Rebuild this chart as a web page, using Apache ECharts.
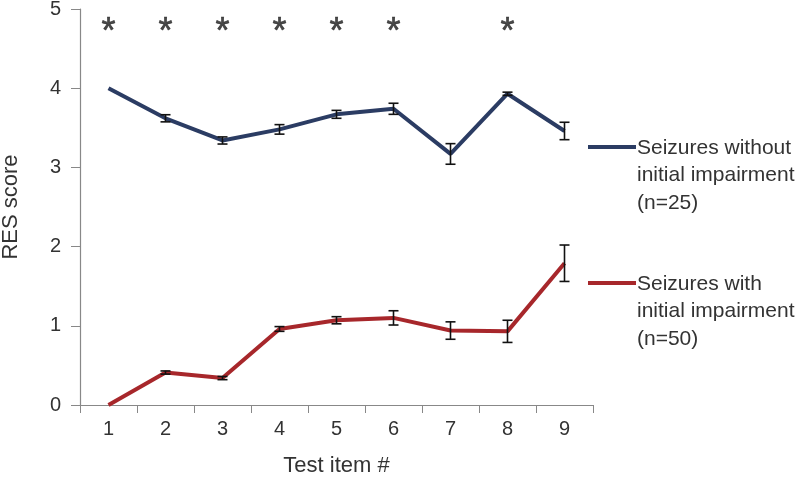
<!DOCTYPE html>
<html><head><meta charset="utf-8">
<script src="https://cdn.jsdelivr.net/npm/echarts@6/dist/echarts.min.js"></script>
<style>html,body{margin:0;padding:0;background:#fff}#c{width:797px;height:478px}</style>
</head><body><div id="c"></div>
<script>
var categories = ['1','2','3','4','5','6','7','8','9'];
var withoutImp = [4.00, 3.62, 3.34, 3.48, 3.67, 3.74, 3.17, 3.93, 3.46];
var withoutErr = [0.00, 0.045, 0.045, 0.06, 0.05, 0.07, 0.13, 0.02, 0.11];
var withImp = [0.00, 0.41, 0.34, 0.96, 1.07, 1.10, 0.94, 0.93, 1.79];
var withErr = [0.00, 0.02, 0.02, 0.03, 0.045, 0.09, 0.11, 0.14, 0.23];
var starItems = ['1','2','3','4','5','6','8'];
var starLevel = 4.70;
var nameWithout = 'Seizures without\ninitial impairment\n(n=25)';
var nameWith = 'Seizures with\ninitial impairment\n(n=50)';
var yTicks = [0,1,2,3,4,5];

var font = 'Liberation Sans, Arial, sans-serif';
var blue = '#2b3c63', red = '#a7272b';

function errData(vals, errs){
  return vals.map(function(v,i){ return [i, v - errs[i], v + errs[i]]; });
}
function errRender(params, api){
  var x = api.value(0), lo = api.value(1), hi = api.value(2);
  if (hi - lo < 1e-6) return null;
  var p1 = api.coord([x, hi]), p2 = api.coord([x, lo]);
  var w = 5;
  var st = {stroke:'#111', lineWidth:1.6};
  return {type:'group', children:[
    {type:'line', shape:{x1:p1[0],y1:p1[1],x2:p2[0],y2:p2[1]}, style:st},
    {type:'line', shape:{x1:p1[0]-w,y1:p1[1],x2:p1[0]+w,y2:p1[1]}, style:st},
    {type:'line', shape:{x1:p2[0]-w,y1:p2[1],x2:p2[0]+w,y2:p2[1]}, style:st}
  ]};
}

var chart = echarts.init(document.getElementById('c'));
chart.setOption({
  animation:false,
  backgroundColor:'#fff',
  grid:{left:80, right:204, top:9, bottom:73, containLabel:false, outerBoundsMode:'none'},
  xAxis:{type:'category', data:categories, boundaryGap:true,
    name:'Test item #', nameLocation:'middle', nameGap:50,
    nameTextStyle:{fontFamily:font, fontSize:22, color:'#333'},
    axisLine:{lineStyle:{color:'#888', width:1.2}},
    axisTick:{show:true, length:8, lineStyle:{color:'#888'}},
    axisLabel:{fontFamily:font, fontSize:20, color:'#333', margin:14}},
  yAxis:{type:'value', min:0, max:5, interval:1,
    name:'RES score', nameLocation:'middle', nameGap:58,
    nameTextStyle:{fontFamily:font, fontSize:22, color:'#333'},
    axisLine:{show:true, lineStyle:{color:'#888', width:1.2}},
    axisTick:{show:true, length:9, lineStyle:{color:'#888'}},
    splitLine:{show:false},
    axisLabel:{fontFamily:font, fontSize:20, color:'#333', margin:19,
      formatter:function(v){ return yTicks.indexOf(v)>=0 ? String(v) : ''; }}},
  series:[
    {name:nameWithout, type:'line', data:withoutImp, symbol:'none',
      lineStyle:{color:blue, width:4}, itemStyle:{color:blue}, z:2},
    {name:nameWith, type:'line', data:withImp, symbol:'none',
      lineStyle:{color:red, width:4}, itemStyle:{color:red}, z:2},
    {type:'custom', renderItem:errRender, data:errData(withoutImp, withoutErr), z:3},
    {type:'custom', renderItem:errRender, data:errData(withImp, withErr), z:3},
    {type:'scatter', symbol:'circle', symbolSize:1, itemStyle:{color:'rgba(0,0,0,0)'},
      data:starItems.map(function(c){return [c, starLevel];}),
      label:{show:true, position:'inside', formatter:'*', fontFamily:font, fontSize:36, color:'#1a1a1a', textBorderColor:'#1a1a1a', textBorderWidth:0.6}}
  ],
  graphic:[
    {type:'line', shape:{x1:588,y1:147,x2:636,y2:147}, style:{stroke:blue, lineWidth:4}},
    {type:'text', left:637, top:134, style:{text:nameWithout, fontFamily:font, fontSize:21, lineHeight:27.5, fill:'#333'}},
    {type:'line', shape:{x1:588,y1:283,x2:636,y2:283}, style:{stroke:red, lineWidth:4}},
    {type:'text', left:637, top:270, style:{text:nameWith, fontFamily:font, fontSize:21, lineHeight:27.5, fill:'#333'}}
  ]
});
</script></body></html>
